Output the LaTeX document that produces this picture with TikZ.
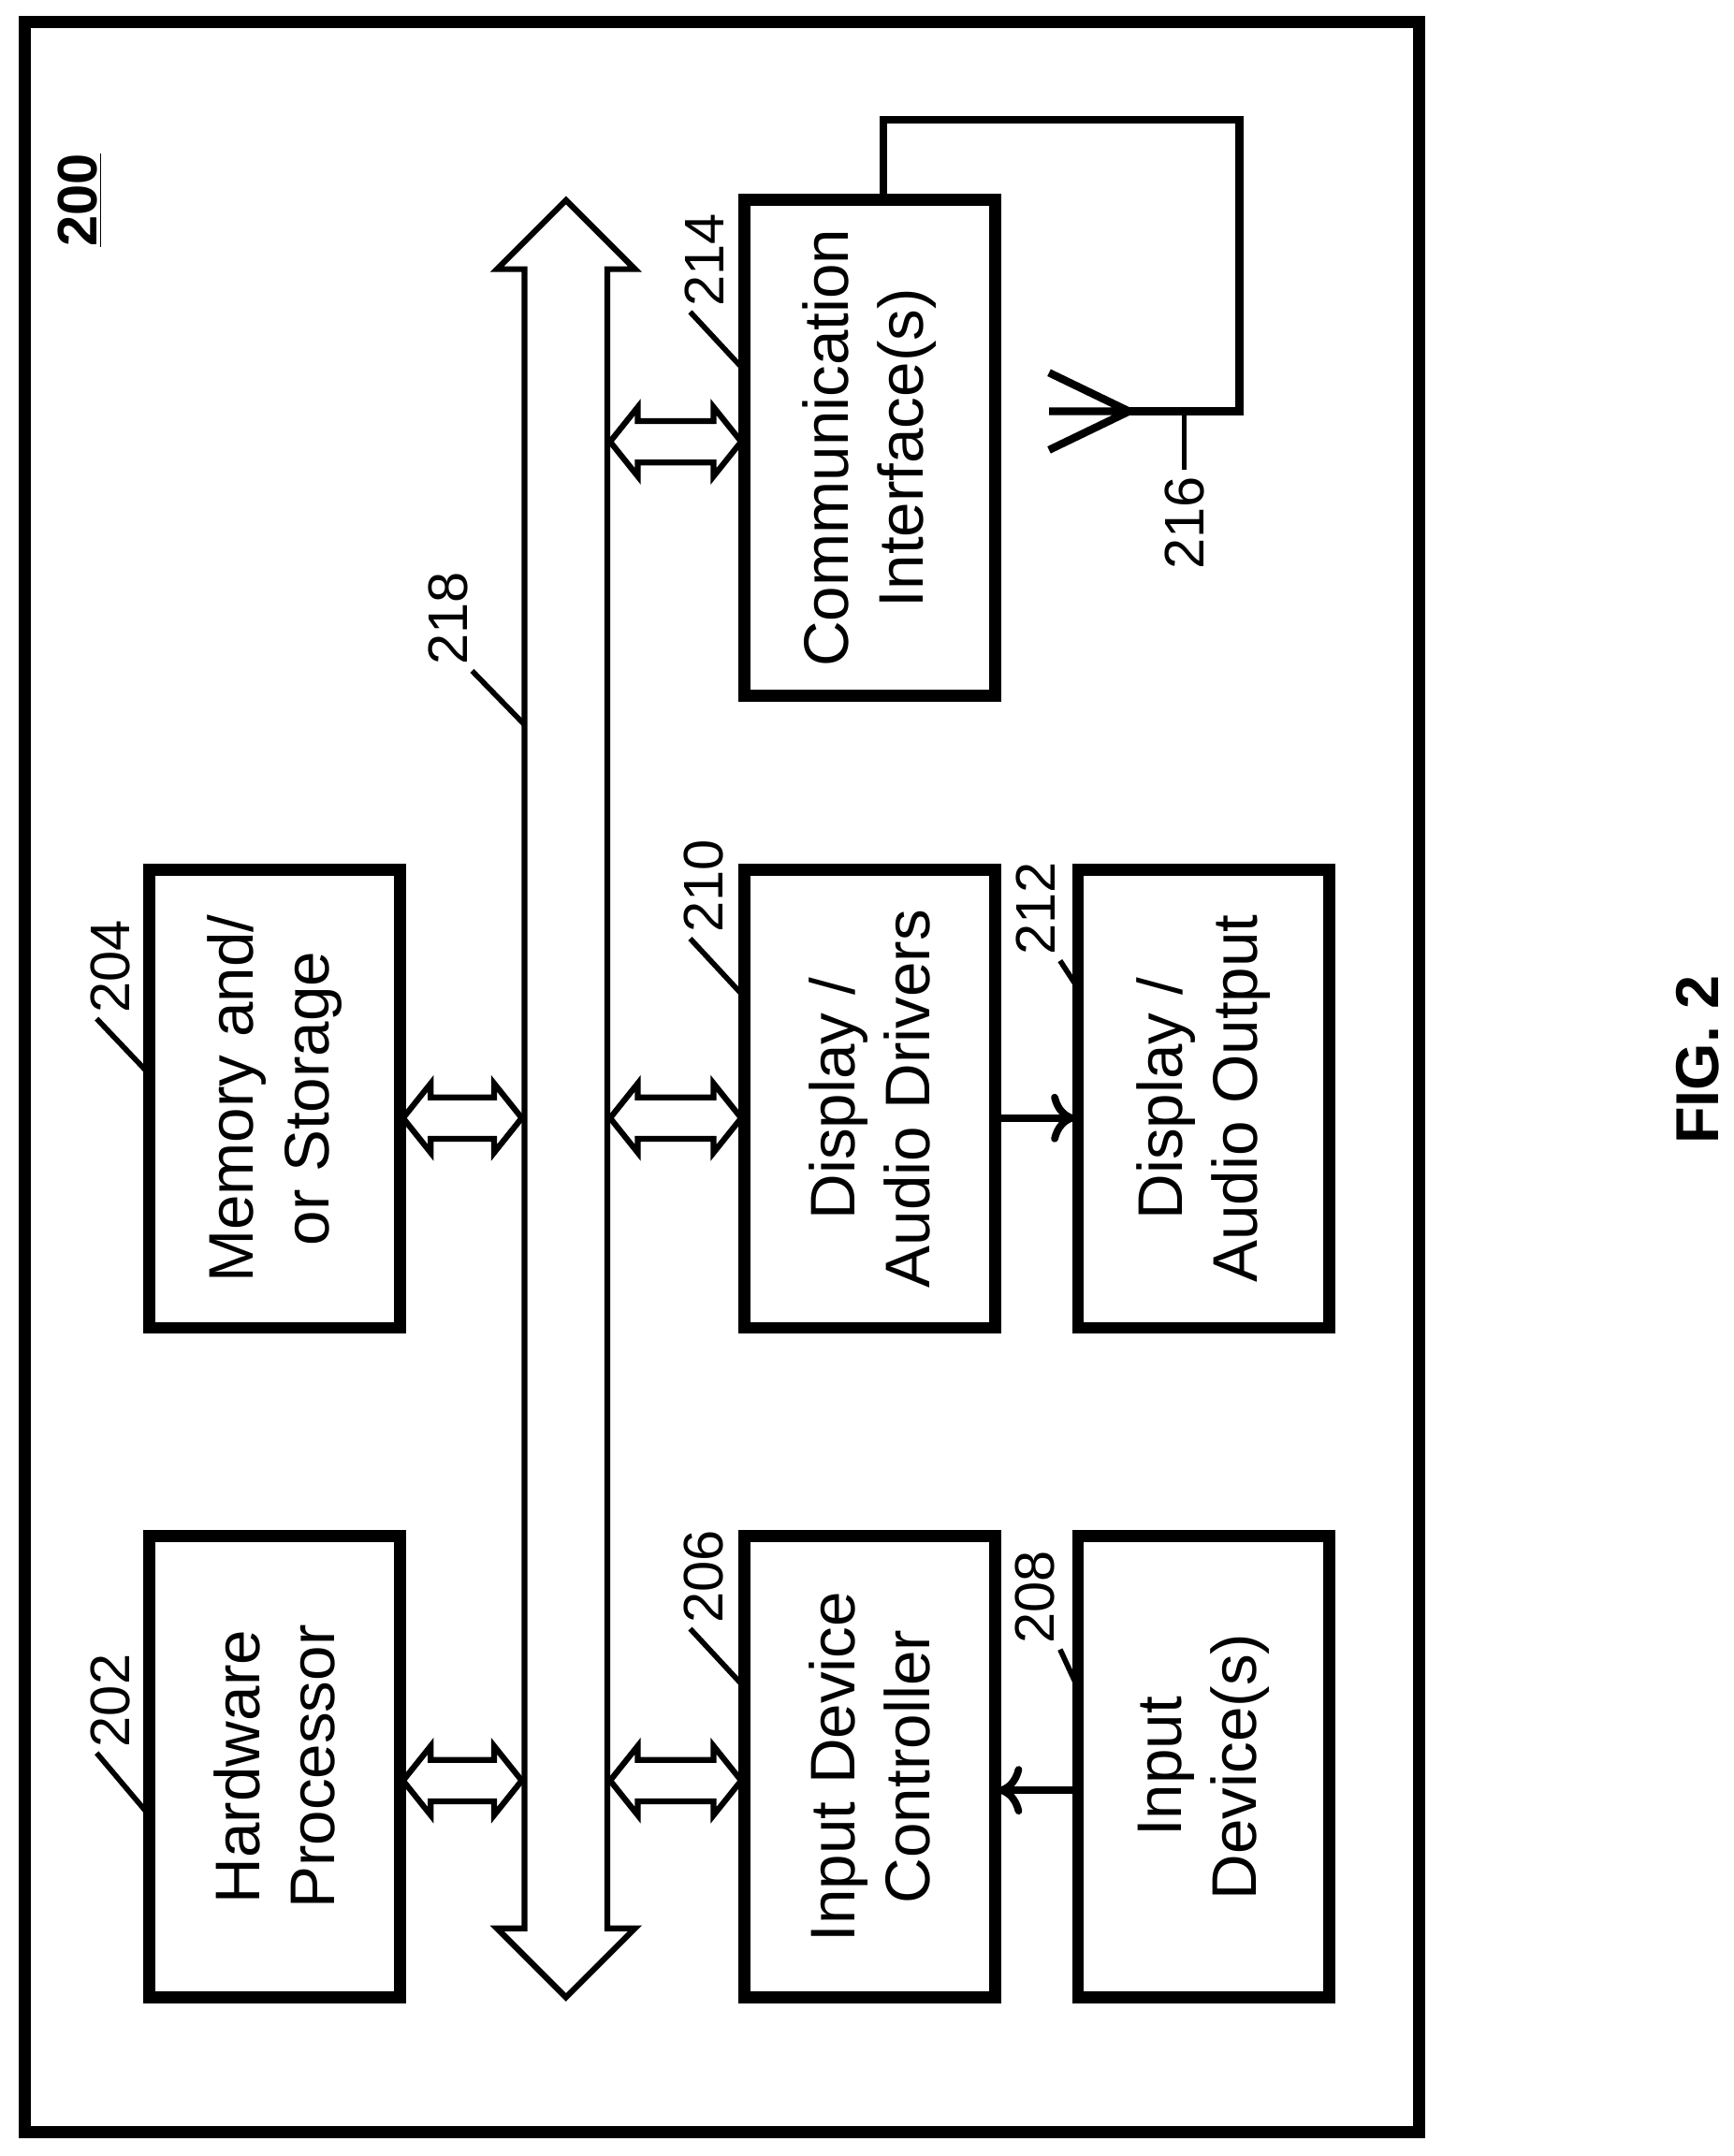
\documentclass[tikz,border=0pt]{standalone}
\usepackage{fontspec}
\setmainfont{Liberation Sans}
\usetikzlibrary{arrows.meta}
\newcommand{\dblh}[3]{\draw[thin line] (#1,#3) -- (#1+20,#3-25) -- (#1+20,#3-15) -- (#2-20,#3-15) -- (#2-20,#3-25) -- (#2,#3) -- (#2-20,#3+25) -- (#2-20,#3+15) -- (#1+20,#3+15) -- (#1+20,#3+25) -- cycle;}
\begin{document}
\begin{tikzpicture}[x=0.02cm,y=-0.02cm,
 thin line/.style={line width=2.4pt,line join=miter},
 lead/.style={line width=2.2pt},
 lab/.style={rotate=90,font=\fontsize{23}{26}\selectfont,inner sep=1pt},
 arr/.style={line width=3pt,-{To[length=10pt,width=20pt,line width=3pt]}}]
\useasboundingbox (0,0) rectangle (1256,1562);
\draw[line width=5pt] (18,16) rectangle (1028,1545);
\node[rotate=90,font=\bfseries\fontsize{23}{26}\selectfont] (n200) at (58,145) {\underline{200}};
\newcommand{\bx}[5]{\draw[line width=5pt] (#1,#2) rectangle (#3,#4); \node[rotate=90,align=center,font=\fontsize{26}{31}\selectfont] at ({(#1+#3)/2},{(#2+#4)/2}) {#5};}
\bx{108}{1113}{290}{1447}{Hardware\\Processor}
\bx{108}{630}{290}{962}{Memory and/\\or Storage}
\bx{539}{1113}{721}{1447}{Input Device\\Controller}
\bx{539}{630}{721}{962}{Display /\\Audio Drivers}
\bx{539}{145}{721}{504}{Communication\\Interface(s)}
\bx{781}{1113}{963}{1447}{Input\\Device(s)}
\bx{781}{630}{963}{962}{Display /\\Audio Output}
% bus
\draw[thin line] (410,145) -- (460,195) -- (440,195) -- (440,1397) -- (460,1397) -- (410,1447) -- (360,1397) -- (380,1397) -- (380,195) -- (360,195) -- cycle;
\dblh{292}{378}{1290}
\dblh{292}{378}{810}
\dblh{442}{537}{1290}
\dblh{442}{537}{810}
\dblh{442}{537}{320}
% arrows
\coordinate (a1) at (723,810); \coordinate (a2) at (779,810);
\draw[arr] (a1) -- (a2);
\coordinate (b1) at (779,1297); \coordinate (b2) at (723,1297);
\draw[arr] (b1) -- (b2);
% antenna
\draw[line width=3.2pt] (640,145) -- (640,87) -- (898,87) -- (898,298) -- (818,298);
\draw[line width=3.2pt] (760,270) -- (818,298) -- (760,326) (760,298) -- (818,298);
\draw[lead] (858,298) -- (858,340);
\node[lab,anchor=east] at (858,343) {216};
% labels
\draw[lead] (108,1315) -- (70,1270); \node[lab,anchor=west] at (80,1268) {202};
\draw[lead] (108,778) -- (70,738); \node[lab,anchor=west] at (80,736) {204};
\draw[lead] (539,1222) -- (500,1180); \node[lab,anchor=west] at (510,1178) {206};
\draw[lead] (781,1223) -- (768,1195); \node[lab,anchor=west] at (750,1193) {208};
\draw[lead] (539,722) -- (500,680); \node[lab,anchor=west] at (510,678) {210};
\draw[lead] (781,716) -- (768,696); \node[lab,anchor=west] at (750,694) {212};
\draw[lead] (539,268) -- (500,226); \node[lab,anchor=west] at (510,224) {214};
\draw[lead] (380,525) -- (342,486); \node[lab,anchor=west] at (325,484) {218};
\node[rotate=90,font=\bfseries\fontsize{25}{28}\selectfont] at (1230,768) {FIG. 2};
\end{tikzpicture}
\end{document}
